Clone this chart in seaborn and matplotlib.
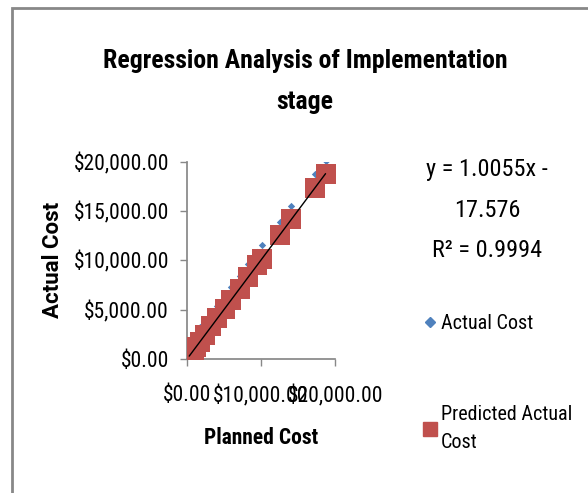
import numpy as np
import pandas as pd
import matplotlib.pyplot as plt
import seaborn as sns
from matplotlib.patches import Rectangle
from matplotlib.lines import Line2D
from matplotlib.ticker import FuncFormatter

# values
planned_cost = [300, 600, 900, 1200, 1700, 2400, 3300, 4100, 5100, 6000, 7100, 8300, 9500, 10100, 12500, 14100, 17300, 18700]
actual_cost = [1200, 1800, 2100, 2400, 3200, 3700, 4600, 5400, 6400, 7300, 8400, 9600, 10800, 11600, 13900, 15500, 18800, 20100]
slope = 1.0055
intercept = -17.576
r_squared = 0.9994

blue = "#4F81BD"
red = "#C0504D"

sns.set_theme(style="white")
plt.rcParams['font.family'] = ['Roboto Condensed', 'Roboto', 'DejaVu Sans']
plt.rcParams['text.color'] = 'black'
plt.rcParams['axes.labelcolor'] = 'black'

df = pd.DataFrame({"Planned Cost": planned_cost, "Actual Cost": actual_cost})
df["Predicted Actual Cost"] = slope * df["Planned Cost"] + intercept

fig = plt.figure(figsize=(5.88, 4.93), dpi=100)
ax = fig.add_axes([0.318, 0.272, 0.252, 0.400])

sns.scatterplot(data=df, x="Planned Cost", y="Actual Cost", marker="D", s=14,
                color=blue, edgecolor=blue, linewidth=0, ax=ax, zorder=2)
sns.scatterplot(data=df, x="Planned Cost", y="Predicted Actual Cost", marker="s", s=210,
                color=red, edgecolor=red, linewidth=0, ax=ax, zorder=3)

# linear trendline
xs = np.array([min(planned_cost), max(planned_cost)])
sns.lineplot(x=xs, y=slope * xs + intercept, color="black", linewidth=1, ax=ax, zorder=4)

ax.set_xlim(0, 20000)
ax.set_ylim(0, 20000)
ax.set_xticks([0, 10000, 20000])
ax.set_yticks([0, 5000, 10000, 15000, 20000])
fmt = FuncFormatter(lambda v, p: f"${v:,.2f}")
ax.xaxis.set_major_formatter(fmt)
ax.yaxis.set_major_formatter(fmt)
ax.tick_params(axis="both", labelsize=15.5, colors="#888888", length=5, width=1, direction="out",
               labelcolor="black", bottom=True, left=True)
ax.tick_params(axis="x", pad=14)
ax.tick_params(axis="y", pad=8)
for s in ["top", "right"]:
    ax.spines[s].set_visible(False)
for s in ["left", "bottom"]:
    ax.spines[s].set_color("#888888")
ax.set_xlabel("Planned Cost", fontsize=15.5, fontweight="bold", labelpad=14)
ax.set_ylabel("Actual Cost", fontsize=16, fontweight="bold", labelpad=7,
              family=["Roboto", "DejaVu Sans"])

fig.suptitle("Regression Analysis of Implementation\nstage", x=0.519, y=0.90,
             fontsize=18.5, fontweight="bold", linespacing=1.9)

fig.text(0.828, 0.574, f"y = {slope}x -\n{abs(intercept)}\nR\u00b2 = {r_squared}",
         ha="center", va="center", fontsize=17.5, linespacing=1.95)

handles = [Line2D([], [], marker="D", color=blue, linestyle="", markersize=5),
           Line2D([], [], marker="s", color=red, linestyle="", markersize=10)]
leg = fig.legend(handles, ["Actual Cost", "Predicted Actual\nCost"], loc="upper left",
                 bbox_to_anchor=(0.686, 0.40), frameon=False, fontsize=14.5,
                 labelspacing=3.6, handletextpad=0.15, handlelength=0.8)
for t in leg.get_texts():
    t.set_linespacing(1.55)

# chart frame
fig.patches.append(Rectangle((12 / 588, -0.1), 1.2, 1.084, transform=fig.transFigure,
                             fill=False, edgecolor="#888888", linewidth=2))

fig.savefig("out.png", dpi=100)
